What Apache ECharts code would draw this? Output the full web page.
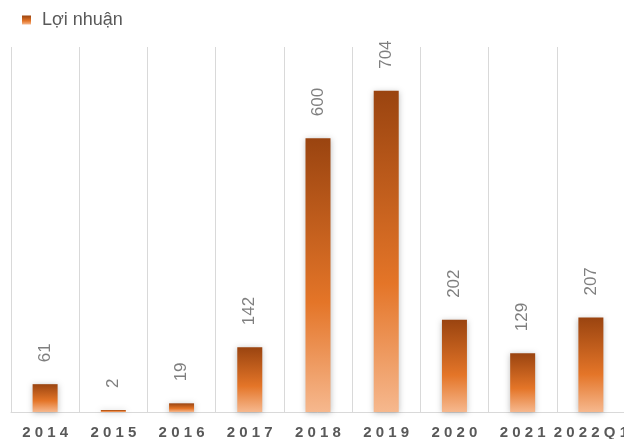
<!DOCTYPE html>
<html>
<head>
<meta charset="utf-8">
<script src="https://cdn.jsdelivr.net/npm/echarts@6/dist/echarts.min.js"></script>
<style>
  html, body { margin: 0; padding: 0; background: #fff; }
  #chart { width: 624px; height: 439px; }
</style>
</head>
<body>
<div id="chart"></div>
<script>
const years = ['2014', '2015', '2016', '2017', '2018', '2019', '2020', '2021', '2022Q1'];
const profit = [61, 2, 19, 142, 600, 704, 202, 129, 207];
const seriesName = 'Lợi nhuận';

const chart = echarts.init(document.getElementById('chart'));

const barColor = new echarts.graphic.LinearGradient(0, 0, 0, 1, [
    { offset: 0, color: '#9a4410' },
    { offset: 0.6, color: '#e47528' },
    { offset: 1, color: '#f6b88e' }
]);

const options = {
    animation: false,
    textStyle: { fontFamily: 'Liberation Sans, Arial, sans-serif' },
    legend: {
        left: 17,
        top: 6,
        icon: 'rect',
        itemWidth: 9,
        itemHeight: 9,
        itemGap: 10,
        textStyle: { color: '#595959', fontSize: 18, padding: [0, 0, 0, 6] },
        data: [seriesName]
    },
    grid: {
        left: 11,
        top: 47,
        right: -1,
        bottom: 27,
        containLabel: false,
        outerBoundsMode: 'none'
    },
    xAxis: {
        type: 'category',
        data: years,
        axisTick: { show: false },
        axisLine: { lineStyle: { color: '#d9d9d9', width: 1 } },
        splitLine: { show: true, lineStyle: { color: '#d9d9d9', width: 1 } },
        axisLabel: {
            color: '#595959',
            fontSize: 15,
            fontWeight: 'bold',
            margin: 13,
            interval: 0,
            formatter: function (v) {
                return v.split('').join(' ');
            }
        }
    },
    yAxis: {
        type: 'value',
        min: 0,
        max: 800,
        show: false,
        splitLine: { show: false }
    },
    series: [
        {
            name: seriesName,
            type: 'bar',
            barWidth: 25,
            barMinHeight: 2,
            data: profit,
            itemStyle: {
                color: barColor,
                shadowBlur: 6,
                shadowColor: 'rgba(0,0,0,0.25)',
                shadowOffsetX: 0,
                shadowOffsetY: 1
            },
            label: {
                show: true,
                position: 'top',
                rotate: 90,
                align: 'left',
                verticalAlign: 'middle',
                distance: 22,
                color: '#7f7f7f',
                fontSize: 17
            }
        }
    ]
};

chart.setOption(options);
</script>
</body>
</html>
